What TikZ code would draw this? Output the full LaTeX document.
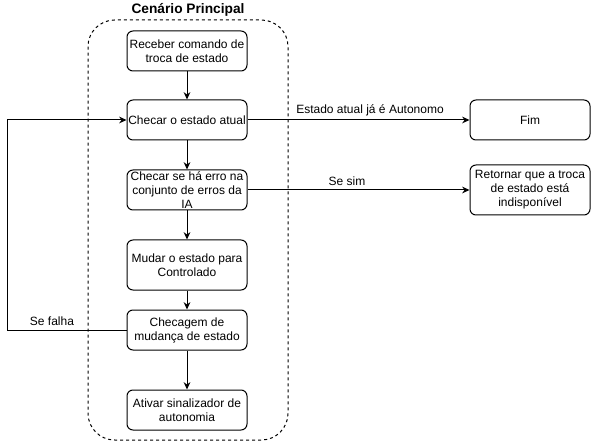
\documentclass[tikz,border=0pt]{standalone}
\usepackage{fontspec}
\setmainfont{Liberation Sans}
\usetikzlibrary{arrows.meta}
\begin{document}
\begin{tikzpicture}[x=0.75pt,y=-0.75pt,
  every node/.style={font=\fontsize{9}{10.5}\selectfont},
  box/.style={draw,rounded corners=4.5pt,align=center,inner sep=0pt,line width=0.75pt},
  flow/.style={draw,line width=0.75pt,-{Stealth[length=5.5pt,width=5pt]}},
  lbl/.style={inner sep=0pt}]
\useasboundingbox (0,0) rectangle (591,441);
\fill[white] (0,0) rectangle (591,441);
\draw[dash pattern=on 2.25pt off 2.25pt,rounded corners=20pt,line width=0.75pt] (88,20) rectangle (288,440);
\node[lbl,font=\fontsize{10.3}{12}\selectfont\bfseries] (title) at (188,10) {Cenário Principal};
\node[box,minimum width=90pt,minimum height=30pt] (b1) at (187,51) {Receber comando de\\troca de estado};
\node[box,minimum width=90pt,minimum height=30pt] (b2) at (187,120) {Checar o estado atual};
\node[box,minimum width=90pt,minimum height=30pt] (b3) at (187,190) {Checar se há erro na\\conjunto de erros da\\IA};
\node[box,minimum width=90pt,minimum height=37.5pt] (b4) at (187,265) {Mudar o estado para\\Controlado};
\node[box,minimum width=90pt,minimum height=30pt] (b5) at (187,330) {Checagem de\\mudança de estado};
\node[box,minimum width=90pt,minimum height=30pt] (b6) at (187,410) {Ativar sinalizador de\\autonomia};
\node[box,minimum width=90pt,minimum height=30pt] (fim) at (530,120) {Fim};
\node[box,minimum width=90pt,minimum height=37.5pt] (ret) at (530,190) {Retornar que a troca\\de estado está\\indisponível};
\coordinate (l1) at (7,330);
\coordinate (l2) at (7,120);
\draw[flow] (b1) -- (b2);
\draw[flow] (b2) -- (b3);
\draw[flow] (b3) -- (b4);
\draw[flow] (b4) -- (b5);
\draw[flow] (b5) -- (b6);
\draw[flow] (b2) -- (fim);
\draw[flow] (b3) -- (ret);
\draw[flow] (b5.west) -- (l1) -- (l2) -- (b2.west);
\node[lbl] (t1) at (370,110) {Estado atual já é Autonomo};
\node[lbl] (t2) at (347,181) {Se sim};
\node[lbl] (t3) at (52,321) {Se falha};
\end{tikzpicture}
\end{document}
